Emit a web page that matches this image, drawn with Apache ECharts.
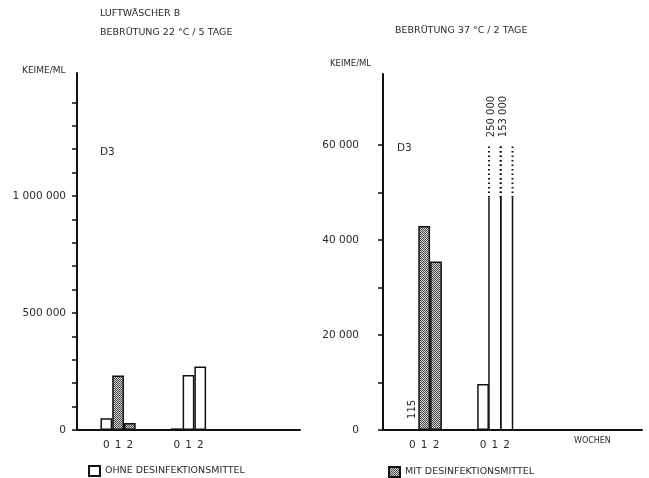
<!DOCTYPE html>
<html><head><meta charset="utf-8">
<script src="https://cdn.jsdelivr.net/npm/echarts@6/dist/echarts.min.js"></script>
<style>html,body{margin:0;padding:0;background:#fff}#c{width:649px;height:478px}</style>
</head><body><div id="c"></div>
<script>
// ---- data ----
const weekLabels = ['0', '1', '2'];
// Bebrütung 22 °C / 5 Tage (Keime/ml)
const mit22 = [50000, 233000, 30000];
const ohne22 = [7000, 235000, 271000];
// Bebrütung 37 °C / 2 Tage (Keime/ml)
const mit37 = [115, 43000, 35500];
const ohne37 = [9700, 250000, 153000];
// axis ticks / labels
const leftTicks = [0, 100000, 200000, 300000, 400000, 500000, 600000, 700000, 800000, 900000, 1000000, 1100000, 1200000, 1300000, 1400000];
const leftLabels = [0, 500000, 1000000];
const rightTicks = [0, 10000, 20000, 30000, 40000, 50000, 60000];
const rightLabels = [0, 20000, 40000, 60000];
const breakValue = 49000;   // solid part of off-scale bars ends here (right chart)
const capValue = 60000;     // dotted part ends here (right chart)
const nameOhne = 'OHNE DESINFEKTIONSMITTEL';
const nameMit = 'MIT DESINFEKTIONSMITTEL';

// ---- layout ----
const FONT = 'DejaVu Sans';
const TXT = '#2a2a2a';
const groupStarts = [2, 8];
const leftSlots = 19, rightSlots = 22;

function fmt(v) { return String(v).replace(/\B(?=(\d{3})+(?!\d))/g, ' '); }
function cats(n) {
  const a = new Array(n).fill('');
  groupStarts.forEach(g => weekLabels.forEach((w, i) => { a[g + i] = w; }));
  return a;
}

// hatched pattern
const pc = document.createElement('canvas'); pc.width = 4; pc.height = 4;
const pg = pc.getContext('2d');
pg.fillStyle = '#d4d4d4'; pg.fillRect(0, 0, 4, 4);
pg.fillStyle = '#4a4a4a';
for (let x = 0; x < 4; x++) for (let y = 0; y < 4; y++) if ((x + y) % 2 === 0) pg.fillRect(x, y, 1, 1);
const hatch = { image: pc, repeat: 'repeat' };

function buildChart(n, mit, ohne, cap) {
  const white = new Array(n).fill(null);
  const hatched = new Array(n).fill(null);
  const broken = [];
  const [gMit, gOhne] = groupStarts;
  white[gMit] = mit[0];
  hatched[gMit + 1] = mit[1];
  hatched[gMit + 2] = mit[2];
  ohne.forEach((v, i) => {
    if (cap != null && v > cap) broken.push([gOhne + i, v]);
    else white[gOhne + i] = v;
  });
  return { white, hatched, broken };
}
const L = buildChart(leftSlots, mit22, ohne22, null);
const R = buildChart(rightSlots, mit37, ohne37, capValue);
// small label on the tiny 115 bar
R.white[groupStarts[0]] = {
  value: mit37[0],
  label: { show: true, position: 'top', rotate: 90, distance: 10, align: 'left', verticalAlign: 'middle',
           formatter: fmt(mit37[0]), fontFamily: FONT, fontSize: 10, color: TXT }
};

const barStyle = { borderColor: '#111', borderWidth: 1.5 };

const chart = echarts.init(document.getElementById('c'), null, { renderer: 'canvas' });

function yAxisCfg(gi, max, ticks, labels, margin) {
  return {
    gridIndex: gi, type: 'value', min: 0, max: max,
    axisLine: { show: true, lineStyle: { color: '#111', width: 2 } },
    axisTick: { show: true, length: 5, customValues: ticks, lineStyle: { color: '#111', width: 1.5 } },
    axisLabel: { customValues: labels, formatter: v => fmt(v), margin: margin,
                 fontFamily: FONT, fontSize: 10.5, color: TXT },
    splitLine: { show: false }
  };
}
function xAxisCfg(gi, n) {
  return {
    gridIndex: gi, type: 'category', data: cats(n), boundaryGap: true,
    axisLine: { show: true, lineStyle: { color: '#111', width: 2 } },
    axisTick: { show: false },
    axisLabel: { interval: 0, margin: 10, fontFamily: FONT, fontSize: 10.5, color: TXT }
  };
}

function brokenSeries(gi, data) {
  return {
    type: 'custom', name: nameOhne, xAxisIndex: gi, yAxisIndex: gi,
    data: data, encode: { x: 0, y: 1 }, z: 3,
    renderItem: function (params, api) {
      const idx = api.value(0);
      const v = api.value(1);
      const w = api.size([1, 0])[0];
      const p0 = api.coord([idx, 0]);
      const pb = api.coord([idx, breakValue]);
      const pt = api.coord([idx, capValue]);
      const xl = p0[0] - w / 2, xr = p0[0] + w / 2;
      const solid = { stroke: '#111', lineWidth: 1.5 };
      const dot = { stroke: '#111', lineWidth: 2, lineDash: [1.5, 3] };
      return { type: 'group', children: [
        { type: 'line', shape: { x1: xl, y1: p0[1], x2: xl, y2: pb[1] }, style: solid },
        { type: 'line', shape: { x1: xr, y1: p0[1], x2: xr, y2: pb[1] }, style: solid },
        { type: 'line', shape: { x1: xl, y1: pb[1], x2: xl, y2: pt[1] }, style: dot },
        { type: 'line', shape: { x1: xr, y1: pb[1], x2: xr, y2: pt[1] }, style: dot },
        { type: 'text', x: p0[0] - 3, y: pt[1] - 8, rotation: Math.PI / 2,
          style: { text: fmt(v), fill: TXT, font: '10px "' + FONT + '"', align: 'left', verticalAlign: 'middle' } }
      ]};
    }
  };
}

function smallText(text, x, y, size) {
  return { type: 'text', x: x, y: y,
    style: { text: text, fill: TXT, font: (size || 8.5) + 'px "' + FONT + '"', align: 'left', verticalAlign: 'middle' } };
}

const option = {
  backgroundColor: '#fff',
  animation: false,
  grid: [
    { left: 77, top: 73, width: 223, height: 357 },
    { left: 383, top: 74, width: 259, height: 356 }
  ],
  xAxis: [xAxisCfg(0, leftSlots), xAxisCfg(1, rightSlots)],
  yAxis: [
    yAxisCfg(0, 1525000, leftTicks, leftLabels, 11),
    yAxisCfg(1, 75000, rightTicks, rightLabels, 24)
  ],
  legend: [
    { data: [nameOhne], left: 83, top: 460, itemWidth: 11, itemHeight: 10, itemGap: 5, icon: 'rect',
      textStyle: { fontFamily: FONT, fontSize: 9.5, color: TXT }, selectedMode: false },
    { data: [nameMit], left: 383, top: 461, itemWidth: 11, itemHeight: 10, itemGap: 5, icon: 'rect',
      textStyle: { fontFamily: FONT, fontSize: 9.5, color: TXT }, selectedMode: false }
  ],
  series: [
    { type: 'bar', name: nameOhne, xAxisIndex: 0, yAxisIndex: 0, data: L.white,
      barCategoryGap: '0%', barGap: '-100%', itemStyle: Object.assign({ color: '#fff' }, barStyle) },
    { type: 'bar', name: nameMit, xAxisIndex: 0, yAxisIndex: 0, data: L.hatched,
      barCategoryGap: '0%', barGap: '-100%', itemStyle: Object.assign({ color: hatch }, barStyle) },
    { type: 'bar', name: nameOhne, xAxisIndex: 1, yAxisIndex: 1, data: R.white,
      barCategoryGap: '0%', barGap: '-100%', itemStyle: Object.assign({ color: '#fff' }, barStyle) },
    { type: 'bar', name: nameMit, xAxisIndex: 1, yAxisIndex: 1, data: R.hatched,
      barCategoryGap: '0%', barGap: '-100%', itemStyle: Object.assign({ color: hatch }, barStyle) },
    brokenSeries(1, R.broken)
  ],
  graphic: [
    smallText('LUFTWÄSCHER B', 100, 14, 9.5),
    smallText('BEBRÜTUNG 22 °C / 5 TAGE', 100, 33, 9.5),
    smallText('BEBRÜTUNG 37 °C / 2 TAGE', 395, 31, 9.5),
    smallText('KEIME/ML', 22, 71, 9),
    smallText('KEIME/ML', 330, 64, 8.5),
    smallText('D3', 100, 152, 10.5),
    smallText('D3', 397, 148, 10.5),
    smallText('WOCHEN', 574, 441, 8)
  ]
};
chart.setOption(option);
</script>
</body></html>
